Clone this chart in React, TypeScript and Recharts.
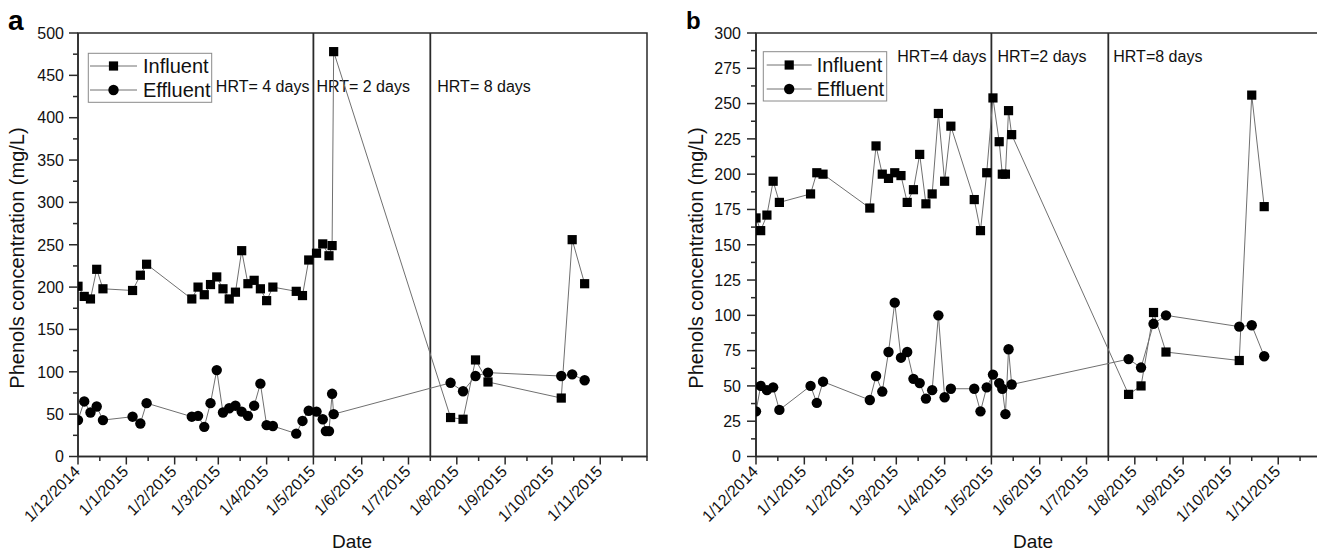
import React from 'react';
import { LineChart, Line, XAxis, YAxis, ReferenceLine, ReferenceArea } from 'recharts';

const FONT = '"Liberation Sans", Arial, Helvetica, sans-serif';
const AXIS = '#2a2a2a';
const LINK = '#707070';

// ---------- tick labels / categories ----------
const monthTickDates = [
  '2014-12-01', '2015-01-01', '2015-02-01', '2015-03-01', '2015-04-01', '2015-05-01',
  '2015-06-01', '2015-07-01', '2015-08-01', '2015-09-01', '2015-10-01', '2015-11-01',
];
const minorTickDates = [
  '2014-12-15', '2015-01-15', '2015-02-15', '2015-03-15', '2015-04-15', '2015-05-15',
  '2015-06-15', '2015-07-15', '2015-08-15', '2015-09-15', '2015-10-15', '2015-11-15', '2015-12-01',
];
const xDomainDates = ['2014-12-01', '2015-12-01'];
const hrtChangeDates = ['2015-05-01', '2015-07-15'];
const aHrtLabels = ['HRT= 4 days', 'HRT= 2 days', 'HRT= 8 days'];
const bHrtLabels = ['HRT=4 days', 'HRT=2 days', 'HRT=8 days'];

const aYTicks = [0, 50, 100, 150, 200, 250, 300, 350, 400, 450, 500];
const bYTicks = [0, 25, 50, 75, 100, 125, 150, 175, 200, 225, 250, 275, 300];

// ---------- panel a ----------
const aInfluentDates = [
  '2014-12-01', '2014-12-05', '2014-12-09', '2014-12-13', '2014-12-17',
  '2015-01-05', '2015-01-10', '2015-01-14',
  '2015-02-12', '2015-02-16', '2015-02-20', '2015-02-24', '2015-02-28',
  '2015-03-04', '2015-03-08', '2015-03-12', '2015-03-16', '2015-03-20', '2015-03-24', '2015-03-28',
  '2015-04-01', '2015-04-05', '2015-04-20', '2015-04-24', '2015-04-28',
  '2015-05-03', '2015-05-07', '2015-05-11', '2015-05-13', '2015-05-14',
  '2015-07-28', '2015-08-05', '2015-08-13', '2015-08-21',
  '2015-10-07', '2015-10-14', '2015-10-22',
];
const aInfluent = [
  201, 189, 186, 221, 198,
  196, 214, 227,
  186, 200, 191, 203, 212,
  198, 186, 194, 243, 204, 208, 198,
  184, 200, 195, 190, 232,
  240, 251, 237, 249, 478,
  46, 44, 114, 88,
  69, 256, 204,
];
const aEffluentDates = [
  '2014-12-01', '2014-12-05', '2014-12-09', '2014-12-13', '2014-12-17',
  '2015-01-05', '2015-01-10', '2015-01-14',
  '2015-02-12', '2015-02-16', '2015-02-20', '2015-02-24', '2015-02-28',
  '2015-03-04', '2015-03-08', '2015-03-12', '2015-03-16', '2015-03-20', '2015-03-24', '2015-03-28',
  '2015-04-01', '2015-04-05', '2015-04-20', '2015-04-24', '2015-04-28',
  '2015-05-03', '2015-05-07', '2015-05-09', '2015-05-11', '2015-05-13', '2015-05-14',
  '2015-07-28', '2015-08-05', '2015-08-13', '2015-08-21',
  '2015-10-07', '2015-10-14', '2015-10-22',
];
const aEffluent = [
  43, 65, 52, 59, 43,
  47, 39, 63,
  47, 48, 35, 63, 102,
  52, 57, 60, 53, 48, 60, 86,
  37, 36, 27, 42, 54,
  53, 44, 30, 30, 74, 50,
  87, 77, 95, 99,
  95, 97, 90,
];

// ---------- panel b ----------
const bInfluentDates = [
  '2014-12-01', '2014-12-04', '2014-12-08', '2014-12-12', '2014-12-16',
  '2015-01-05', '2015-01-09', '2015-01-13',
  '2015-02-12', '2015-02-16', '2015-02-20', '2015-02-24', '2015-02-28',
  '2015-03-04', '2015-03-08', '2015-03-12', '2015-03-16', '2015-03-20', '2015-03-24', '2015-03-28',
  '2015-04-01', '2015-04-05', '2015-04-20', '2015-04-24', '2015-04-28',
  '2015-05-02', '2015-05-06', '2015-05-08', '2015-05-10', '2015-05-12', '2015-05-14',
  '2015-07-28', '2015-08-05', '2015-08-13', '2015-08-21',
  '2015-10-07', '2015-10-15', '2015-10-23',
];
const bInfluent = [
  169, 160, 171, 195, 180,
  186, 201, 200,
  176, 220, 200, 197, 201,
  199, 180, 189, 214, 179, 186, 243,
  195, 234, 182, 160, 201,
  254, 223, 200, 200, 245, 228,
  44, 50, 102, 74,
  68, 256, 177,
];
const bEffluentDates = bInfluentDates;
const bEffluent = [
  32, 50, 47, 49, 33,
  50, 38, 53,
  40, 57, 46, 74, 109,
  70, 74, 55, 52, 41, 47, 100,
  42, 48, 48, 32, 49,
  58, 52, 48, 30, 76, 51,
  69, 63, 94, 100,
  92, 93, 71,
];

// ---------- helpers ----------
const START = Date.UTC(2014, 11, 1);
const toDay = (s: string) => {
  const [y, m, d] = s.split('-').map(Number);
  return Math.round((Date.UTC(y, m - 1, d) - START) / 86400000);
};
const fmtDate = (s: string) => {
  const [y, m, d] = s.split('-').map(Number);
  return `${d}/${m}/${y}`;
};
const makeSeries = (dates: string[], vals: number[]) => dates.map((s, i) => ({ d: toDay(s), v: vals[i] }));

const majorDays = monthTickDates.map(toDay);
const majorLabel: Record<number, string> = {};
monthTickDates.forEach((s) => { majorLabel[toDay(s)] = fmtDate(s); });
const xTicks = [...majorDays, ...minorTickDates.map(toDay)].sort((a, b) => a - b);
const xDomain = xDomainDates.map(toDay);
const hrtDays = hrtChangeDates.map(toDay);

const renderXTick = (p: any) => {
  const { x, y, payload } = p;
  const major = majorLabel[payload.value] !== undefined;
  const ax = x + 3;
  const ay = y + 16;
  return (
    <g key={`xt-${payload.value}`}>
      <line x1={x} x2={x} y1={y} y2={y + (major ? 8 : 4.5)} stroke={AXIS} strokeWidth={1.5} />
      {major && (
        <text x={ax} y={ay} textAnchor="end" transform={`rotate(-45 ${ax} ${ay})`}
          fontSize={16} fontFamily={FONT} fill="#111">{majorLabel[payload.value]}</text>
      )}
    </g>
  );
};

const makeYTick = (majorStep: number, labelGap: number) => (p: any) => {
  const { x, y, payload } = p;
  const major = Math.abs(payload.value % majorStep) < 1e-6;
  return (
    <g key={`yt-${payload.value}`}>
      <line x1={x} x2={x - (major ? 9 : 5)} y1={y} y2={y} stroke={AXIS} strokeWidth={1.5} />
      {major && (
        <text x={x - labelGap} y={y} dy="0.36em" textAnchor="end" fontSize={16} fontFamily={FONT} fill="#111">
          {payload.value}
        </text>
      )}
    </g>
  );
};

const squareDot = (p: any) => (
  <rect key={`s-${p.index}`} x={p.cx - 4.6} y={p.cy - 4.6} width={9.2} height={9.2} fill="#000" />
);
const circleDot = (p: any) => (
  <circle key={`c-${p.index}`} cx={p.cx} cy={p.cy} r={5.2} fill="#000" />
);

type PanelProps = {
  left: number;
  width: number;
  rightMargin: number;
  yTicks: number[];
  influent: { d: number; v: number }[];
  effluent: { d: number; v: number }[];
  labels: string[];
  labelBaseline: number;
  gaps: number[];
  yLabelGap: number;
};

function Panel(props: PanelProps) {
  const { left, width, rightMargin, yTicks, influent, effluent, labels, labelBaseline, gaps, yLabelGap } = props;
  const step = yTicks[1] - yTicks[0];
  const yMax = yTicks[yTicks.length - 1];
  const allY = [...yTicks, ...yTicks.slice(0, -1).map((t) => t + step / 2)].sort((a, b) => a - b);

  const hrtText = (text: string, side: 'before' | 'after', gap: number) => (lp: any) => {
    const vb = lp.viewBox || {};
    const lx = vb.x !== undefined ? vb.x : vb.x1;
    const ty = (vb.y !== undefined ? vb.y : vb.y1) + labelBaseline;
    return (
      <text x={side === 'before' ? lx - gap : lx + gap} y={ty} textAnchor={side === 'before' ? 'end' : 'start'}
        fontSize={16} fontFamily={FONT} fill="#111">{text}</text>
    );
  };

  return (
    <div style={{ position: 'absolute', left, top: 0 }}>
      <LineChart width={width} height={553} margin={{ top: 33, right: rightMargin, left: 0, bottom: 0 }}>
        <XAxis type="number" dataKey="d" domain={xDomain} ticks={xTicks} interval={0} allowDataOverflow
          tick={renderXTick} tickLine={false} tickSize={0} tickMargin={0} height={96.5}
          axisLine={{ stroke: AXIS, strokeWidth: 1.5 }} />
        <YAxis type="number" domain={[0, yMax]} ticks={allY} interval={0} allowDataOverflow
          tick={makeYTick(step, yLabelGap)} tickLine={false} tickSize={0} tickMargin={0} width={78}
          axisLine={{ stroke: AXIS, strokeWidth: 1.5 }} />
        <ReferenceArea x1={xDomain[0]} x2={xDomain[1]} y1={0} y2={yMax} fill="none" fillOpacity={0}
          stroke={AXIS} strokeWidth={1.5} ifOverflow="visible" />
        <ReferenceLine x={hrtDays[0]} stroke={AXIS} strokeWidth={1.8}
          label={hrtText(labels[0], 'before', gaps[0])} />
        <ReferenceLine x={hrtDays[0]} stroke="none" strokeWidth={0}
          label={hrtText(labels[1], 'after', gaps[1])} />
        <ReferenceLine x={hrtDays[1]} stroke={AXIS} strokeWidth={1.8}
          label={hrtText(labels[2], 'after', gaps[2])} />
        <Line data={influent} dataKey="v" type="linear" stroke={LINK} strokeWidth={1}
          dot={squareDot} activeDot={false} isAnimationActive={false} />
        <Line data={effluent} dataKey="v" type="linear" stroke={LINK} strokeWidth={1}
          dot={circleDot} activeDot={false} isAnimationActive={false} />
      </LineChart>
    </div>
  );
}

function LegendBox({ x, y, w, h, lineX0, lineX1, textX, row1, row2 }: any) {
  const mx = (lineX0 + lineX1) / 2;
  return (
    <g>
      <rect x={x} y={y} width={w} height={h} fill="#fff" stroke="#8a8a8a" strokeWidth={1} />
      <line x1={lineX0} x2={lineX1} y1={row1} y2={row1} stroke={LINK} strokeWidth={1} />
      <rect x={mx - 4.6} y={row1 - 4.6} width={9.2} height={9.2} fill="#000" />
      <text x={textX} y={row1 + 7} fontSize={20} fontFamily={FONT} fill="#111">Influent</text>
      <line x1={lineX0} x2={lineX1} y1={row2} y2={row2} stroke={LINK} strokeWidth={1} />
      <circle cx={mx} cy={row2} r={5.2} fill="#000" />
      <text x={textX} y={row2 + 7} fontSize={20} fontFamily={FONT} fill="#111">Effluent</text>
    </g>
  );
}

export default function App() {
  return (
    <div style={{ position: 'fixed', left: 0, top: 0, width: 1317, height: 553, overflow: 'hidden', background: '#fff' }}>
      <Panel left={0} width={700} rightMargin={53} yTicks={aYTicks}
        influent={makeSeries(aInfluentDates, aInfluent)} effluent={makeSeries(aEffluentDates, aEffluent)}
        labels={aHrtLabels} labelBaseline={59} gaps={[4, 3, 7]} yLabelGap={14} />
      <Panel left={677.7} width={657} rightMargin={10} yTicks={bYTicks}
        influent={makeSeries(bInfluentDates, bInfluent)} effluent={makeSeries(bEffluentDates, bEffluent)}
        labels={bHrtLabels} labelBaseline={29} gaps={[5, 6, 5]} yLabelGap={15} />
      <svg width={1317} height={553} style={{ position: 'absolute', left: 0, top: 0, pointerEvents: 'none' }}>
        <text x={8} y={30} fontSize={28} fontWeight="bold" fontFamily={FONT} fill="#000">a</text>
        <text x={686} y={29} fontSize={24} fontWeight="bold" fontFamily={FONT} fill="#000">b</text>
        <text x={0} y={0} transform="translate(24 258) rotate(-90)" textAnchor="middle" fontSize={20}
          fontFamily={FONT} fill="#111">Phenols concentration (mg/L)</text>
        <text x={0} y={0} transform="translate(703 258) rotate(-90)" textAnchor="middle" fontSize={20}
          fontFamily={FONT} fill="#111">Phenols concentration (mg/L)</text>
        <text x={352} y={548} textAnchor="middle" fontSize={19} fontFamily={FONT} fill="#111">Date</text>
        <text x={1033} y={548} textAnchor="middle" fontSize={19} fontFamily={FONT} fill="#111">Date</text>
        <LegendBox x={88.3} y={53.3} w={123.4} h={49} lineX0={90} lineX1={137} textX={143} row1={66} row2={90} />
        <LegendBox x={763.3} y={51.7} w={123.4} h={49.3} lineX0={766.7} lineX1={811.7} textX={816.7} row1={65} row2={89} />
      </svg>
    </div>
  );
}
